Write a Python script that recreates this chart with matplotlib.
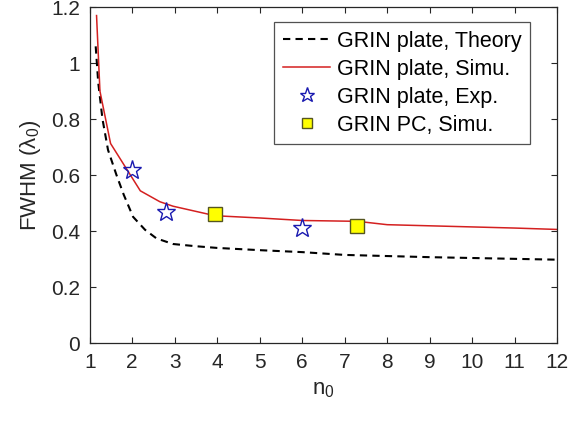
import matplotlib
matplotlib.use("Agg")
import matplotlib.pyplot as plt

plt.rcParams['font.family'] = ['Liberation Sans', 'DejaVu Sans']
plt.rcParams['mathtext.fontset'] = 'custom'
plt.rcParams['mathtext.rm'] = 'Liberation Sans'

theory_x = [1.14, 1.2, 1.3, 1.43, 1.63, 1.8, 2.02, 2.3, 2.57, 2.96, 3.5, 4.0, 5.0, 6.0, 7.0, 8.0, 9.0, 10.0, 11.0, 12.0]
theory_y = [1.06, 0.93, 0.80, 0.69, 0.60, 0.53, 0.451, 0.405, 0.374, 0.354, 0.346, 0.340, 0.332, 0.325, 0.315, 0.311, 0.307, 0.304, 0.301, 0.298]

simu_x = [1.16, 1.24, 1.49, 2.19, 2.65, 2.96, 3.95, 5.0, 6.0, 7.3, 8.0, 9.0, 10.0, 11.0, 12.0]
simu_y = [1.17, 0.90, 0.713, 0.544, 0.505, 0.489, 0.455, 0.447, 0.438, 0.435, 0.423, 0.419, 0.415, 0.411, 0.406]

exp_x = [2.0, 2.8, 6.0]
exp_y = [0.62, 0.469, 0.41]

pc_x = [3.95, 7.3]
pc_y = [0.46, 0.419]

fig = plt.figure(figsize=(5.68, 4.21), dpi=100)
ax = fig.add_axes([0.158, 0.185, 0.823, 0.798])

ax.plot(theory_x, theory_y, '--', color='black', lw=1.5, dashes=(3.5, 2.5), label='GRIN plate, Theory')
ax.plot(simu_x, simu_y, '-', color='#d42020', lw=1.1, label='GRIN plate, Simu.')
ax.plot(exp_x, exp_y, linestyle='none', marker='*', ms=14, mfc='none', mec='#1a1ab0', mew=1.0, label='GRIN plate, Exp.')
ax.plot(pc_x, pc_y, linestyle='none', marker='s', ms=9.5, mfc='#ffff00', mec='#555520', mew=1.0, label='GRIN PC, Simu.')

ax.set_xlim(1, 12)
ax.set_ylim(0, 1.2)
ax.set_xticks(range(1, 13))
ax.set_yticks([0, 0.2, 0.4, 0.6, 0.8, 1.0, 1.2])
ax.set_yticklabels(['0', '0.2', '0.4', '0.6', '0.8', '1', '1.2'])
ax.tick_params(direction='in', top=True, right=True, labelsize=15, colors='#262626', length=4, width=0.8, pad=7)
for s in ax.spines.values():
    s.set_color('#262626')
    s.set_linewidth(0.9)

ax.set_xlabel(r'n$_0$', fontsize=16, color='#262626', labelpad=5)
ax.set_ylabel(r'FWHM ($\mathregular{\lambda_0}$)', fontsize=16, color='#262626', labelpad=6)

leg = ax.legend(loc='upper right', bbox_to_anchor=(0.942, 0.955), fontsize=15.5, frameon=True, fancybox=False,
                edgecolor='#262626', handlelength=2.2, handletextpad=0.3, borderpad=0.4, labelspacing=0.32,
                borderaxespad=0, markerscale=0.8)
leg.get_frame().set_linewidth(0.9)

fig.savefig('out.png', dpi=100)
